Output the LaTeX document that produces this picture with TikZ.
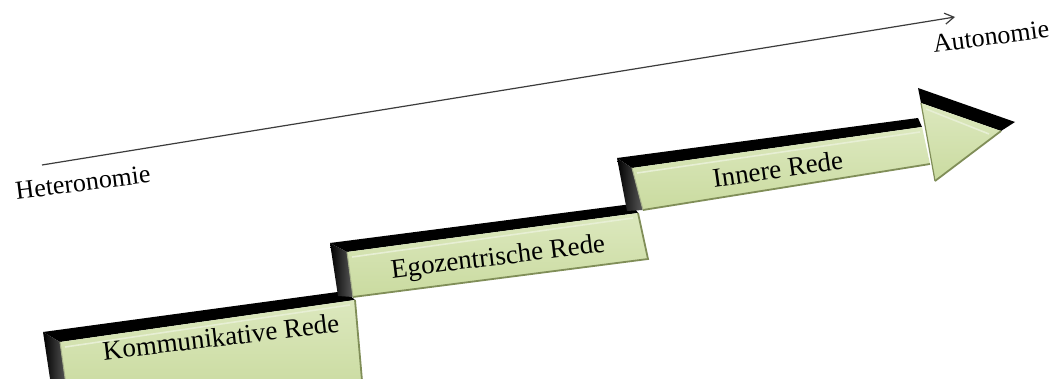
\documentclass[tikz,border=0pt]{standalone}
\usepackage{fontspec}
\setmainfont{Liberation Serif}
\usetikzlibrary{arrows.meta,calc}
\definecolor{facegreen}{RGB}{202,219,160}
\definecolor{facelight}{RGB}{220,232,190}
\definecolor{facedark}{RGB}{128,142,88}
\definecolor{axisgray}{RGB}{60,60,60}
\tikzset{
  topface/.style={fill=black},
  sideface/.style={left color=black, right color=black!65},
  frontface/.style={top color=facelight, bottom color=facegreen},
  bevelhi/.style={draw=white!55!facegreen, line width=1.6pt},
  beveldark/.style={draw=facedark, line width=1.8pt},
  steplabel/.style={font=\fontsize{27}{30}\selectfont, inner sep=0pt, anchor=base},
  axislabel/.style={font=\fontsize{26}{29}\selectfont, inner sep=0pt, anchor=base},
  axisline/.style={draw=axisgray, line width=1.2pt, -{Straight Barb[length=9pt,width=11pt]}}
}
\begin{document}
\begin{tikzpicture}[x=1pt,y=-1pt]
\useasboundingbox (0,0) rectangle (1057,379);
\clip (0,0) rectangle (1057,379);
\fill[white] (0,0) rectangle (1057,379);

% axis
\coordinate (axs) at (42,165);
\coordinate (axe) at (955,17);
\draw[axisline] (axs) -- (axe);
\node[axislabel, rotate=7.3] (het) at (84,191) {Heteronomie};
\node[axislabel, rotate=7.5] (aut) at (992,45) {Autonomie};

% ---------- step 1 ----------
\coordinate (A1) at (43,332);
\coordinate (B1) at (345,291);
\coordinate (C1) at (355,300);
\coordinate (D1) at (60,342);
\coordinate (E1) at (67,392);
\coordinate (F1) at (52,392);
\coordinate (G1) at (363,392);
\fill[topface] (A1) -- (B1) -- (C1) -- (D1) -- cycle;
\shade[sideface] (A1) -- (D1) -- (E1) -- (F1) -- cycle;
\shade[frontface] (D1) -- (C1) -- (G1) -- (E1) -- cycle;
\draw[bevelhi] ($(D1)+(5,5)$) -- ($(C1)+(-5,5)$);
\draw[beveldark] (C1) -- (G1);
\draw[draw=facedark!70, line width=1pt] (D1) -- (E1);

% ---------- step 2 ----------
\coordinate (A2) at (330,243);
\coordinate (B2) at (632,204);
\coordinate (C2) at (638,213);
\coordinate (D2) at (347,252);
\coordinate (E2) at (353,297);
\coordinate (F2) at (338,296);
\coordinate (G2) at (648,259);
\fill[topface] (A2) -- (B2) -- (C2) -- (D2) -- cycle;
\shade[sideface] (A2) -- (D2) -- (E2) -- (F2) -- cycle;
\shade[frontface] (D2) -- (C2) -- (G2) -- (E2) -- cycle;
\draw[bevelhi] ($(D2)+(5,5)$) -- ($(C2)+(-5,5)$);
\draw[beveldark] (E2) -- (G2) -- (C2);
\draw[draw=facedark!70, line width=1pt] (D2) -- (E2);

% ---------- step 3 ----------
\coordinate (A3) at (617,158);
\coordinate (B3) at (918,118);
\coordinate (C3) at (922,127);
\coordinate (D3) at (632,168);
\coordinate (E3) at (643,210);
\coordinate (F3) at (627,211);
\coordinate (G3) at (930,164);
\fill[topface] (A3) -- (B3) -- (C3) -- (D3) -- cycle;
\shade[sideface] (A3) -- (D3) -- (E3) -- (F3) -- cycle;
\shade[frontface] (D3) -- (C3) -- (G3) -- (E3) -- cycle;
\draw[bevelhi] ($(D3)+(5,5)$) -- ($(C3)+(-2,5)$);
\draw[beveldark] (E3) -- (G3);
\draw[draw=facedark!70, line width=1pt] (D3) -- (E3);

% ---------- arrow head ----------
\coordinate (H1) at (918,88);
\coordinate (H2) at (1015,122);
\coordinate (H3) at (1001,131);
\coordinate (H4) at (921,103);
\coordinate (H5) at (935,181);
\fill[topface] (H1) -- (H2) -- (H3) -- (H4) -- cycle;
\shade[frontface] (H4) -- (H3) -- (H5) -- cycle;
\draw[bevelhi] ($(H4)+(5,6)$) -- ($(H3)+(-12,3)$);
\draw[beveldark] (H3) -- (H5);
\draw[draw=facedark, line width=1.2pt] (H4) -- (H5);

% labels
\node[steplabel, rotate=6.8] (komm) at (222,346) {Kommunikative Rede};
\node[steplabel, rotate=7.0] (ego) at (499,265) {Egozentrische Rede};
\node[steplabel, rotate=8.2] (inn) at (779,178) {Innere Rede};
\end{tikzpicture}
\end{document}
